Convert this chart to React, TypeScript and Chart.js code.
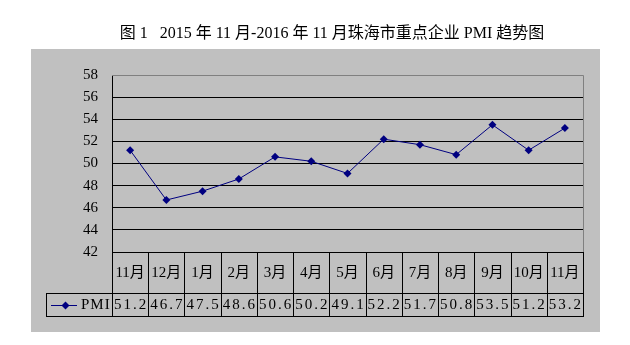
import React, { useEffect, useRef } from "react";
import { Chart, registerables } from "chart.js";

Chart.register(...registerables);

const TITLE = "图 1   2015 年 11 月-2016 年 11 月珠海市重点企业 PMI 趋势图";
const CATEGORIES = ["11月", "12月", "1月", "2月", "3月", "4月", "5月", "6月", "7月", "8月", "9月", "10月", "11月"];
const PMI = [51.2, 46.7, 47.5, 48.6, 50.6, 50.2, 49.1, 52.2, 51.7, 50.8, 53.5, 51.2, 53.2];
const SERIES_NAME = "PMI";
const Y_MIN = 42;
const Y_MAX = 58;
const Y_STEP = 2;

const FONT = "'Liberation Serif', 'Noto Sans CJK SC', serif";
const NAVY = "#000080";

const framePlugin = {
  id: "frame",
  beforeDraw(chart: any) {
    const ctx = chart.ctx;
    ctx.save();
    ctx.fillStyle = "#ffffff";
    ctx.fillRect(0, 0, chart.width, chart.height);
    ctx.fillStyle = "#c0c0c0";
    ctx.fillRect(31, 49, 569, 283);
    ctx.fillStyle = "#000000";
    ctx.font = "16px " + FONT;
    ctx.textAlign = "center";
    ctx.textBaseline = "middle";
    ctx.fillText(TITLE, 332, 34);
    ctx.restore();
  },
  afterDraw(chart: any) {
    const ctx = chart.ctx;
    const area = chart.chartArea;
    const xs = chart.scales.x;
    const n = CATEGORIES.length;
    const w = (area.right - area.left) / n;
    const rowTop = Math.round(area.bottom);
    const rowMid = rowTop + 41;
    const rowBot = rowMid + 23;
    const legendLeft = 46;
    ctx.save();
    // plot border top/right
    ctx.strokeStyle = "#808080";
    ctx.lineWidth = 1;
    ctx.beginPath();
    ctx.moveTo(area.left, Math.round(area.top) + 0.5);
    ctx.lineTo(Math.round(area.right) + 0.5, Math.round(area.top) + 0.5);
    ctx.lineTo(Math.round(area.right) + 0.5, rowTop);
    ctx.stroke();
    // table lines
    ctx.strokeStyle = "#000000";
    ctx.beginPath();
    for (let i = 0; i <= n; i++) {
      const x = Math.round(area.left + i * w) + 0.5;
      ctx.moveTo(x, rowTop);
      ctx.lineTo(x, rowBot + 0.5);
    }
    ctx.moveTo(Math.round(area.left), rowTop + 0.5);
    ctx.lineTo(Math.round(area.right) + 1, rowTop + 0.5);
    ctx.moveTo(legendLeft, rowMid + 0.5);
    ctx.lineTo(Math.round(area.right) + 1, rowMid + 0.5);
    ctx.moveTo(legendLeft, rowBot + 0.5);
    ctx.lineTo(Math.round(area.right) + 1, rowBot + 0.5);
    ctx.moveTo(legendLeft + 0.5, rowMid);
    ctx.lineTo(legendLeft + 0.5, rowBot + 0.5);
    ctx.stroke();
    // texts
    ctx.fillStyle = "#000000";
    ctx.font = "15px " + FONT;
    ctx.textAlign = "center";
    ctx.textBaseline = "middle";
    CATEGORIES.forEach((c, i) => {
      const x = xs.getPixelForValue(i);
      ctx.fillText(c, x, (rowTop + rowMid) / 2 + 1);
    });
    const hasLS = "letterSpacing" in ctx;
    if (hasLS) (ctx as any).letterSpacing = "2px";
    PMI.forEach((v, i) => {
      const x = xs.getPixelForValue(i) + (hasLS ? 1 : 0);
      ctx.fillText(v.toFixed(1), x, (rowMid + rowBot) / 2 + 1);
    });
    // legend
    const ly = Math.round((rowMid + rowBot) / 2) + 0.5;
    ctx.strokeStyle = NAVY;
    ctx.beginPath();
    ctx.moveTo(51, ly);
    ctx.lineTo(77, ly);
    ctx.stroke();
    ctx.fillStyle = NAVY;
    ctx.beginPath();
    ctx.moveTo(65.5, ly - 4);
    ctx.lineTo(69.5, ly);
    ctx.lineTo(65.5, ly + 4);
    ctx.lineTo(61.5, ly);
    ctx.closePath();
    ctx.fill();
    ctx.fillStyle = "#000000";
    ctx.textAlign = "left";
    if (hasLS) (ctx as any).letterSpacing = "1px";
    ctx.fillText(SERIES_NAME, 81, (rowMid + rowBot) / 2 + 1);
    ctx.restore();
  },
};

export default function App() {
  const ref = useRef<HTMLCanvasElement>(null);
  useEffect(() => {
    if (!ref.current) return;
    const chart = new Chart(ref.current, {
      type: "line",
      data: {
        labels: CATEGORIES,
        datasets: [
          {
            label: SERIES_NAME,
            data: PMI,
            borderColor: NAVY,
            backgroundColor: NAVY,
            borderWidth: 1,
            pointStyle: "rectRot",
            pointRadius: 4,
            pointBorderWidth: 0,
            pointBackgroundColor: NAVY,
            tension: 0,
          },
        ],
      },
      options: {
        responsive: false,
        animation: false,
        devicePixelRatio: 1,
        layout: { padding: { left: 31, top: 75, right: 47, bottom: 93 } },
        plugins: {
          legend: { display: false },
          title: { display: false },
          tooltip: { enabled: false },
        },
        scales: {
          x: {
            type: "category",
            display: false,
            offset: true,
          },
          y: {
            min: Y_MIN,
            max: Y_MAX,
            afterFit: (s: any) => {
              s.width = 81;
            },
            ticks: {
              stepSize: Y_STEP,
              padding: 14,
              color: "#000000",
              font: { family: FONT, size: 15 },
            },
            grid: {
              drawTicks: false,
              color: (c: any) => (c.tick && c.tick.value === Y_MAX ? "#808080" : "#000000"),
              lineWidth: 1,
            },
            border: { display: true, color: "#000000", width: 1 },
          },
        },
      },
      plugins: [framePlugin],
    });
    return () => chart.destroy();
  }, []);
  return (
    <div style={{ position: "fixed", left: 0, top: 0, width: 630, height: 345, background: "#fff" }}>
      <canvas ref={ref} width={630} height={345} style={{ width: 630, height: 345 }} />
    </div>
  );
}
